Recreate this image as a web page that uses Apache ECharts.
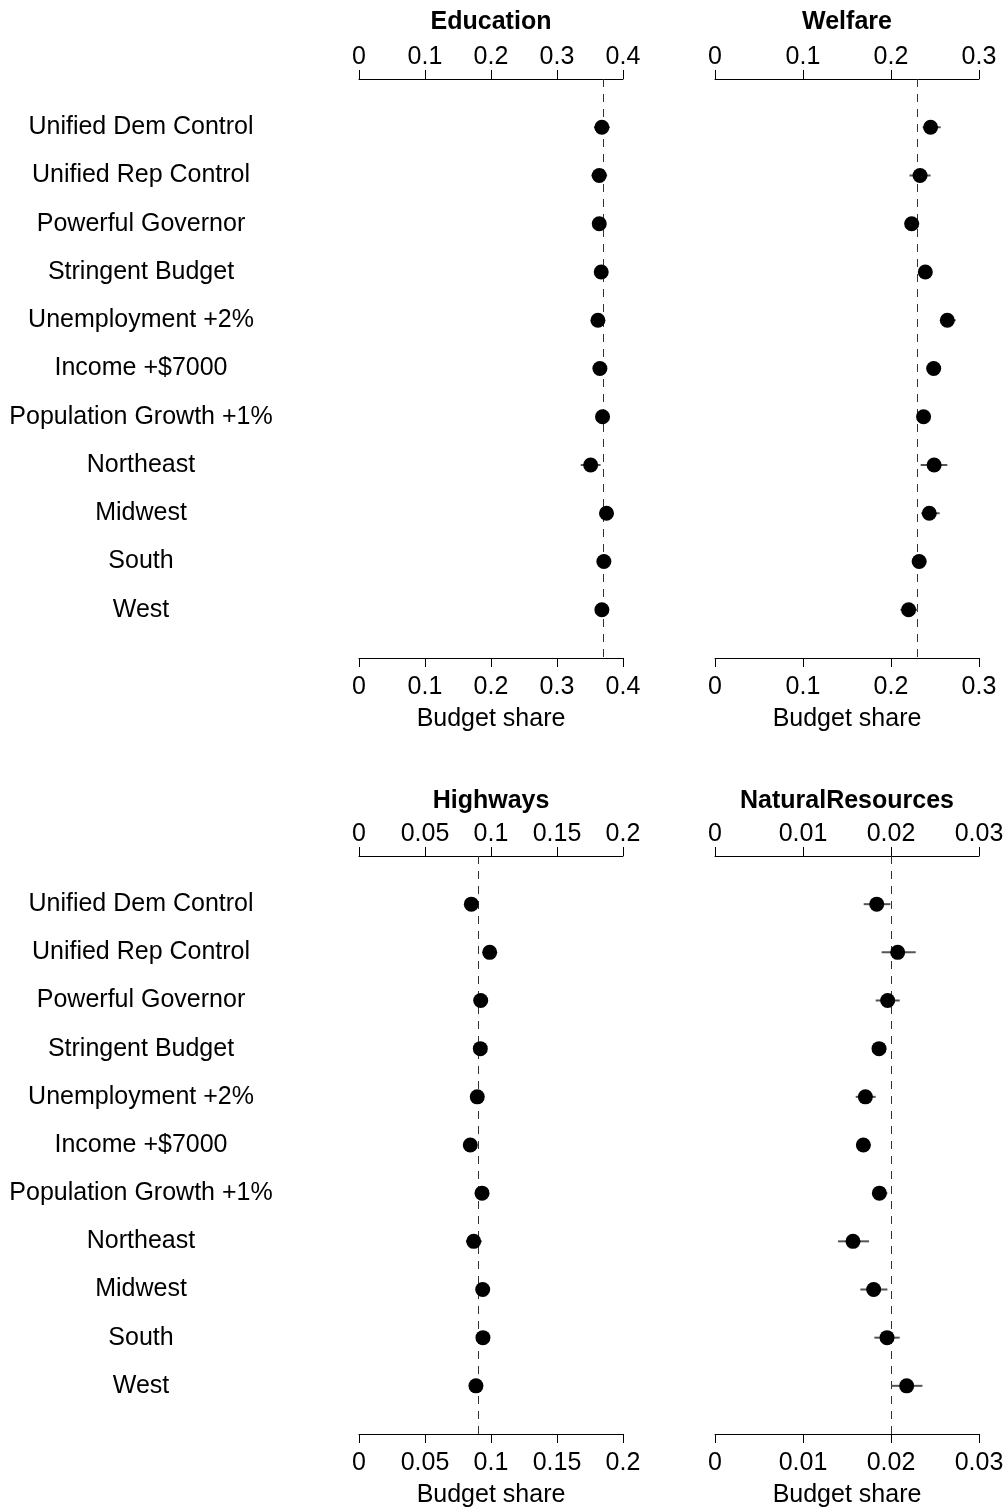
<!DOCTYPE html>
<html>
<head>
<meta charset="utf-8">
<title>Budget share by scenario</title>
<script src="https://cdn.jsdelivr.net/npm/echarts@6/dist/echarts.min.js"></script>
<style>
  html, body { margin: 0; padding: 0; background: #fff; }
  #chart { width: 1008px; height: 1509px; }
</style>
</head>
<body>
<div id="chart"></div>
<script>
// Scenario rows, top to bottom
const categories = [
  'Unified Dem Control', 'Unified Rep Control', 'Powerful Governor',
  'Stringent Budget', 'Unemployment +2%', 'Income +$7000',
  'Population Growth +1%', 'Northeast', 'Midwest', 'South', 'West'
];

// Education: point estimate and interval per scenario
const educationEst = [0.368, 0.364, 0.364, 0.367, 0.362, 0.365, 0.369, 0.351, 0.375, 0.371, 0.368];
const educationLo  = [0.356, 0.352, 0.356, 0.359, 0.354, 0.357, 0.361, 0.336, 0.367, 0.363, 0.360];
const educationHi  = [0.380, 0.376, 0.372, 0.375, 0.370, 0.373, 0.377, 0.366, 0.383, 0.379, 0.376];
const educationRef = 0.369;

// Welfare
const welfareEst = [0.245, 0.233, 0.2235, 0.239, 0.264, 0.2485, 0.237, 0.249, 0.2435, 0.232, 0.220];
const welfareLo  = [0.236, 0.221, 0.2155, 0.232, 0.256, 0.241, 0.230, 0.2337, 0.2345, 0.2243, 0.2107];
const welfareHi  = [0.2565, 0.245, 0.232, 0.246, 0.2735, 0.256, 0.244, 0.264, 0.2553, 0.240, 0.2307];
const welfareRef = 0.2345;

// Highways
const highwaysEst = [0.0851, 0.0990, 0.0922, 0.0919, 0.0896, 0.0843, 0.0932, 0.0869, 0.0937, 0.0939, 0.0886];
const highwaysLo  = [0.0815, 0.0955, 0.0885, 0.0883, 0.0860, 0.0807, 0.0896, 0.0810, 0.0900, 0.0903, 0.0850];
const highwaysHi  = [0.0887, 0.1025, 0.0959, 0.0955, 0.0932, 0.0879, 0.0968, 0.0930, 0.0974, 0.0975, 0.0922];
const highwaysRef = 0.0914;

// Natural resources
const naturalEst = [0.01838, 0.02076, 0.01962, 0.01864, 0.01709, 0.01686, 0.01868, 0.01568, 0.01803, 0.01955, 0.02178];
const naturalLo  = [0.01690, 0.01894, 0.01826, 0.01784, 0.01599, 0.01606, 0.01784, 0.01398, 0.01652, 0.01811, 0.02008];
const naturalHi  = [0.01993, 0.02281, 0.02099, 0.01947, 0.01826, 0.01769, 0.01959, 0.01750, 0.01959, 0.02099, 0.02357];
const naturalRef = 0.01894;

// Axis ranges and tick steps
const axisMax   = [0.4, 0.3, 0.2, 0.03];
const axisStep  = [0.1, 0.1, 0.05, 0.01];
const panelTitles = ['Education', 'Welfare', 'Highways', 'NaturalResources'];

const panels = [
  { est: educationEst, lo: educationLo, hi: educationHi, ref: educationRef },
  { est: welfareEst,   lo: welfareLo,   hi: welfareHi,   ref: welfareRef },
  { est: highwaysEst,  lo: highwaysLo,  hi: highwaysHi,  ref: highwaysRef },
  { est: naturalEst,   lo: naturalLo,   hi: naturalHi,   ref: naturalRef }
];

const FONT = '"Liberation Sans", Arial, Helvetica, sans-serif';
const FS = 25;
const PANEL_W = 264;
const LEFTS = [359, 715];
const TOPS = [79, 856];
const HEIGHTS = [579, 580];
const TITLE_TOP = [10, 789];

const grids = [], xAxes = [], yAxes = [], series = [], titles = [];

panels.forEach((p, i) => {
  const col = i % 2, row = Math.floor(i / 2);
  grids.push({ left: LEFTS[col], top: TOPS[row], width: PANEL_W, height: HEIGHTS[row], containLabel: false });

  titles.push({
    text: panelTitles[i],
    left: LEFTS[col] + PANEL_W / 2,
    top: TITLE_TOP[row],
    textAlign: 'center',
    padding: 0,
    textStyle: { fontFamily: FONT, fontSize: FS, fontWeight: 'bold', color: '#000' }
  });

  const common = {
    type: 'value',
    gridIndex: i,
    min: 0,
    max: axisMax[i],
    interval: axisStep[i],
    splitLine: { show: false },
    axisLine: { show: true, onZero: false, lineStyle: { color: '#000', width: 1 } },
    axisTick: { show: true, length: 9, lineStyle: { color: '#000', width: 1 } },
    axisLabel: { color: '#000', fontFamily: FONT, fontSize: FS }
  };
  xAxes.push(Object.assign({}, common, {
    position: 'top',
    axisLabel: Object.assign({}, common.axisLabel, { margin: 9 })
  }));
  xAxes.push(Object.assign({}, common, {
    position: 'bottom',
    name: 'Budget share',
    nameLocation: 'middle',
    nameGap: 49,
    nameTextStyle: { color: '#000', fontFamily: FONT, fontSize: FS },
    axisLabel: Object.assign({}, common.axisLabel, { margin: 17 })
  }));

  yAxes.push({
    type: 'value',
    gridIndex: i,
    min: 0,
    max: categories.length + 1,
    interval: 1,
    inverse: true,
    splitLine: { show: false },
    axisLine: { show: false },
    axisTick: { show: false },
    axisLabel: {
      show: col === 0,
      align: 'center',
      margin: LEFTS[0] - 141,
      padding: [6, 0, 0, 0],
      color: '#000',
      fontFamily: FONT,
      fontSize: FS,
      formatter: v => categories[v - 1] || ''
    }
  });

  // Interval whiskers
  series.push({
    type: 'custom',
    xAxisIndex: 2 * i,
    yAxisIndex: i,
    silent: true,
    data: p.est.map((_, k) => [p.lo[k], p.hi[k], k + 1]),
    encode: { x: [0, 1], y: 2 },
    renderItem: (params, api) => {
      const y = api.value(2);
      const a = api.coord([api.value(0), y]);
      const b = api.coord([api.value(1), y]);
      return {
        type: 'line',
        shape: { x1: a[0], y1: a[1], x2: b[0], y2: b[1] },
        style: { stroke: '#555', lineWidth: 2 }
      };
    },
    z: 2
  });

  // Point estimates with the baseline reference line
  series.push({
    type: 'scatter',
    xAxisIndex: 2 * i,
    yAxisIndex: i,
    silent: true,
    symbol: 'circle',
    symbolSize: 15,
    itemStyle: { color: '#000', opacity: 1 },
    data: p.est.map((v, k) => [v, k + 1]),
    z: 3,
    markLine: {
      silent: true,
      symbol: 'none',
      label: { show: false },
      lineStyle: { color: '#333', width: 1, type: [8, 7] },
      data: [{ xAxis: p.ref }],
      z: 1
    }
  });
});

const chart = echarts.init(document.getElementById('chart'), null, { renderer: 'canvas' });
chart.setOption({
  backgroundColor: '#fff',
  animation: false,
  title: titles,
  grid: grids,
  xAxis: xAxes,
  yAxis: yAxes,
  series: series
});
</script>
</body>
</html>
